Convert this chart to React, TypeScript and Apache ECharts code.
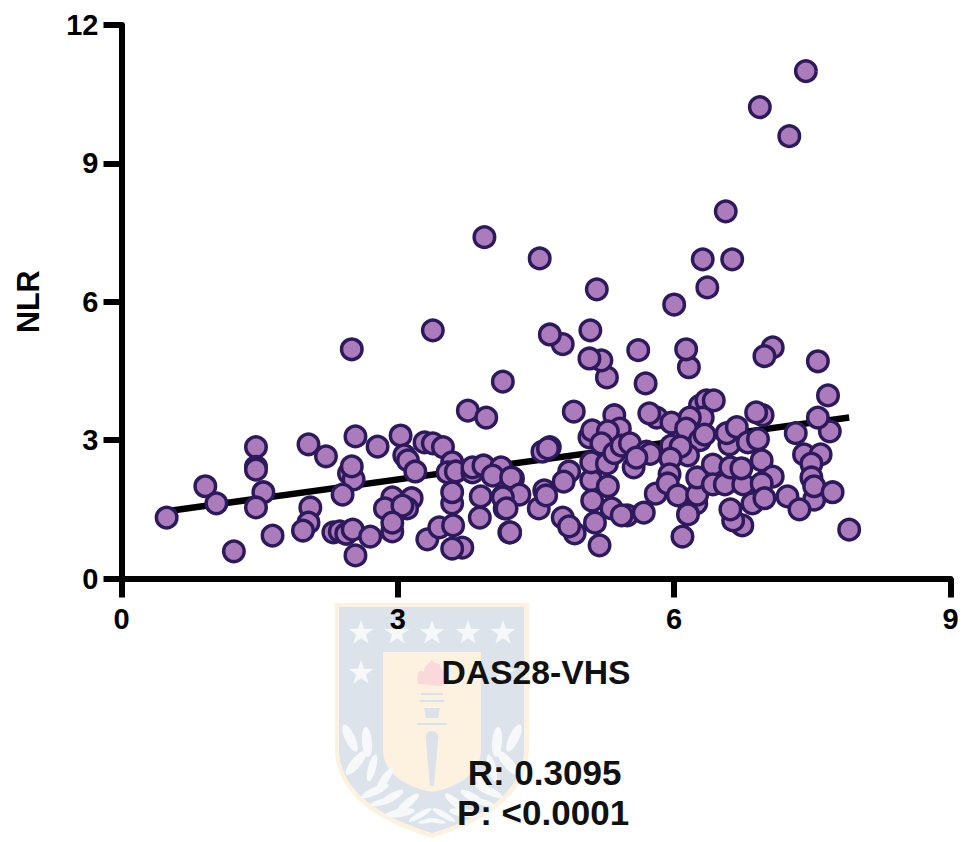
import React, { useEffect, useRef } from "react";
import * as echarts from "echarts";

const xTicks = [0, 3, 6, 9];
const yTicks = [0, 3, 6, 9, 12];
const xTitle = "DAS28-VHS";
const yTitle = "NLR";
const statR = "R: 0.3095";
const statP = "P: <0.0001";

const fitX = [0.49, 7.9];
const fitY = [1.46, 3.49];

const das = [
  0.49, 0.91, 1.03, 1.22, 1.46, 1.46, 1.46, 1.54, 1.46, 1.64, 2.03, 2.22, 2.05, 2.03, 1.97, 2.54, 2.78, 2.47, 2.52, 2.5, 2.4,
  2.3, 2.37, 2.44, 2.51, 2.7, 2.54, 3.03, 3.29, 3.38, 3.49, 3.07, 3.11, 3.19, 2.94, 3.15, 2.86, 3.1, 3.05, 2.94, 2.94, 3.32,
  3.45, 3.6, 3.7, 3.59, 3.59, 3.59, 3.59, 3.54, 3.63, 3.89, 3.9, 3.81, 3.81, 3.93, 4.12, 4.03, 4.25, 4.14, 4.16, 4.21, 3.76,
  3.96, 4.23, 4.32, 4.14, 4.18, 4.22, 4.57, 4.65, 4.63, 4.91, 4.53, 4.59, 4.61, 4.86, 4.8, 4.79, 4.92, 4.86, 5.1, 5.1,
  5.27, 5.28, 5.11, 5.32, 5.14, 5.19, 5.49, 5.43, 5.67, 5.35, 5.41, 5.08, 5.11, 5.28, 5.21, 5.35, 5.43, 5.52, 5.7, 5.74, 5.56,
  5.59, 5.81, 5.73, 5.8, 5.97, 6.28, 6.35, 6.43, 6.31, 6.17, 6.13, 6.28, 6.33, 5.97, 6.15, 6.07, 5.96, 5.95, 5.93, 6.04, 6.24,
  6.25, 6.15, 6.09, 6.25, 6.42, 6.42, 6.55, 6.61, 6.75, 6.73, 6.6, 6.57, 6.68, 6.8, 6.91, 6.95, 6.96, 6.89, 7.07, 6.95, 6.85,
  6.98, 6.74, 6.64, 6.61, 7.32, 7.69, 7.56, 7.41, 7.59, 7.49, 7.49, 7.52, 7.52, 7.72, 7.23, 7.36, 7.9, 7.67, 7.56, 7.07, 6.98,
  6.16, 6.13, 5.61, 5.69, 5.27, 5.21, 5.08, 4.79, 4.65, 4.14, 7.43, 6.93, 7.25, 6.56, 6.31, 6.63, 6.36, 6.0, 5.16, 5.09, 3.94,
  4.54, 3.38, 2.5,
];

const nlr = [
  1.32, 2.0, 1.63, 0.59, 2.85, 2.42, 2.36, 1.87, 1.54, 0.93, 2.91, 2.65, 1.54, 1.21, 1.04, 3.08, 2.86, 2.28, 2.15, 2.43, 1.82,
  1.0, 1.02, 0.97, 1.06, 0.91, 0.5, 3.1, 2.95, 2.93, 2.85, 2.67, 2.56, 2.32, 1.76, 1.74, 1.52, 1.52, 1.58, 1.02, 1.21, 0.85,
  1.11, 1.15, 0.67, 0.65, 1.63, 1.87, 2.52, 2.3, 2.32, 1.32, 1.78, 2.3, 2.41, 2.45, 2.41, 2.23, 2.17, 1.78, 1.52, 1.0, 3.64,
  3.49, 2.19, 1.82, 1.76, 1.52, 1.0, 2.75, 2.85, 2.82, 3.62, 1.52, 1.91, 1.8, 2.32, 2.1, 1.32, 0.98, 1.13, 2.13, 2.52,
  2.49, 2.0, 1.69, 1.52, 1.21, 0.72, 1.37, 1.37, 1.43, 3.54, 3.25, 3.06, 3.21, 3.19, 2.93, 2.72, 2.88, 2.93, 2.75, 2.7, 2.41,
  2.62, 3.49, 3.58, 1.84, 3.38, 3.75, 3.86, 3.86, 3.49, 3.49, 3.25, 3.0, 3.12, 2.88, 2.67, 2.86, 2.6, 2.26, 2.06, 1.8, 1.63,
  1.82, 1.39, 0.91, 2.19, 2.47, 2.04, 2.04, 2.41, 2.04, 2.39, 2.91, 3.15, 3.28, 2.95, 3.02, 2.56, 3.54, 3.6, 2.21, 2.06, 1.63,
  1.74, 1.15, 1.26, 1.5, 3.15, 3.19, 3.49, 2.69, 2.69, 2.49, 2.19, 1.71, 2.0, 1.87, 1.78, 1.5, 1.06, 3.97, 4.71, 5.01, 4.82,
  4.58, 4.97, 4.95, 4.23, 4.36, 4.73, 4.77, 5.08, 5.29, 4.27, 11.0, 10.22, 9.59, 7.96, 6.92, 6.92, 6.31, 5.94, 6.27, 5.38, 7.4,
  6.94, 5.38, 4.97,
];

const FONT = '"Liberation Sans", Arial, sans-serif';

const SHIELD_OUTER = "M335 603 L529 603 L529 748 C529 795 485 822 432 838 C379 822 335 795 335 748 Z";
const SHIELD_BLUE = "M339 607 L524 607 L524 748 C524 792 482 818 432 833 C382 818 339 792 339 748 Z";
const SHIELD_INNER = "M383 652 L481 652 L481 750 C481 772 460 787 432 792 C404 787 383 772 383 750 Z";
const FLAME = "M418 684 C416 672 420 668 424 672 C424 664 430 664 432 659 C433 666 440 660 441 668 C442 672 444 670 445 668 C446 676 444 682 442 686 Z";
const BLADE = "M432 731 C437 731 439 735 438 741 L434 786 L430 786 L426 741 C425 735 427 731 432 731 Z";
const CUP = "M424 708 L440 708 L438 718 L426 718 Z";

function starPoints(cx: number, cy: number, r: number) {
  const pts: number[][] = [];
  for (let i = 0; i < 10; i++) {
    const rad = i % 2 === 0 ? r : r * 0.4;
    const a = -Math.PI / 2 + (i * Math.PI) / 5;
    pts.push([cx + rad * Math.cos(a), cy + rad * Math.sin(a)]);
  }
  return pts;
}

const STAR_SPOTS = [
  [361, 633],
  [397, 633],
  [432, 633],
  [468, 633],
  [503, 633],
  [361, 673],
  [503, 673],
];

// left half of the wreath: cx, cy, rx, ry, rotation in degrees
const LEAVES = [
  [350, 738, 15, 5, 65],
  [367, 742, 15, 5, 85],
  [356, 763, 15, 5, 130],
  [372, 768, 14, 4, 105],
  [385, 779, 13, 4, 125],
  [375, 791, 15, 4, 155],
  [392, 797, 13, 4, 150],
  [408, 803, 14, 4, 140],
  [382, 802, 12, 3, 165],
  [400, 813, 15, 4, 170],
  [420, 815, 13, 3, 150],
  [428, 821, 10, 2, 170],
];

echarts.graphic.registerShape("wmOuter", echarts.graphic.extendPath(SHIELD_OUTER, {}));
echarts.graphic.registerShape("wmBlue", echarts.graphic.extendPath(SHIELD_BLUE, {}));
echarts.graphic.registerShape("wmInner", echarts.graphic.extendPath(SHIELD_INNER, {}));
echarts.graphic.registerShape("wmFlame", echarts.graphic.extendPath(FLAME, {}));
echarts.graphic.registerShape("wmBlade", echarts.graphic.extendPath(BLADE, {}));
echarts.graphic.registerShape("wmCup", echarts.graphic.extendPath(CUP, {}));

function watermark() {
  const els: any[] = [
    { type: "wmOuter", x: 0, y: 0, silent: true, style: { fill: "#fdf2df" } },
    { type: "wmBlue", x: 0, y: 0, silent: true, style: { fill: "#dce3eb" } },
    { type: "wmInner", x: 0, y: 0, silent: true, style: { fill: "#fdf1df" } },
    { type: "wmFlame", x: 0, y: 0, silent: true, style: { fill: "#f9d9da" } },
    { type: "wmBlade", x: 0, y: 0, silent: true, style: { fill: "#dbe2ea" } },
    { type: "wmCup", x: 0, y: 0, silent: true, style: { fill: "#dbe2ea" } },
    { type: "rect", silent: true, shape: { x: 421, y: 693, width: 22, height: 2 }, style: { fill: "#dbe2ea" } },
    { type: "rect", silent: true, shape: { x: 420, y: 700, width: 24, height: 2 }, style: { fill: "#dbe2ea" } },
    { type: "rect", silent: true, shape: { x: 417, y: 723, width: 30, height: 2 }, style: { fill: "#dbe2ea" } },
  ];
  STAR_SPOTS.forEach(([cx, cy]) =>
    els.push({ type: "polygon", silent: true, shape: { points: starPoints(cx, cy, 13) }, style: { fill: "#f6f8fa" } })
  );
  LEAVES.forEach(([cx, cy, rx, ry, deg]) => {
    [1, -1].forEach((side) =>
      els.push({
        type: "ellipse",
        silent: true,
        x: side === 1 ? cx : 864 - cx,
        y: cy,
        rotation: (-side * deg * Math.PI) / 180,
        shape: { cx: 0, cy: 0, rx, ry },
        style: { fill: "#f6f8fa" },
      })
    );
  });
  return els;
}

const points = das.map((d, i) => [d, nlr[i]]);
const fitLine = fitX.map((d, i) => [d, fitY[i]]);

export default function App() {
  const ref = useRef<HTMLDivElement>(null);
  useEffect(() => {
    const chart = echarts.init(ref.current!, undefined, { renderer: "svg" });
    const label = { color: "#000", fontFamily: FONT, fontWeight: "bold" as const, fontSize: 29 };
    chart.setOption({
      animation: false,
      backgroundColor: "#fff",
      grid: { left: 121.5, right: 11.5, top: 25, bottom: 263.5 },
      graphic: [
        ...watermark(),
        {
          type: "text",
          x: 544.5,
          y: 772,
          z: 10,
          style: { text: statR, x: 0, y: 0, align: "center", verticalAlign: "middle", fill: "#111", font: `bold 35px ${FONT}` },
        },
        {
          type: "text",
          x: 543,
          y: 812,
          z: 10,
          style: { text: statP, x: 0, y: 0, align: "center", verticalAlign: "middle", fill: "#111", font: `bold 35px ${FONT}` },
        },
      ],
      xAxis: {
        type: "value",
        min: xTicks[0],
        max: xTicks[xTicks.length - 1],
        interval: 3,
        name: xTitle,
        nameLocation: "middle",
        nameGap: 76,
        nameTextStyle: { color: "#111", fontFamily: FONT, fontWeight: "bold", fontSize: 33.7 },
        splitLine: { show: false },
        axisLine: { show: true, onZero: false, lineStyle: { color: "#000", width: 6 } },
        axisTick: { show: true, length: 19, lineStyle: { color: "#000", width: 6 } },
        axisLabel: { ...label, margin: 26 },
      },
      yAxis: {
        type: "value",
        min: yTicks[0],
        max: yTicks[yTicks.length - 1],
        interval: 3,
        name: yTitle,
        nameLocation: "middle",
        nameGap: 78,
        nameTextStyle: { color: "#000", fontFamily: FONT, fontWeight: "bold", fontSize: 30.5 },
        splitLine: { show: false },
        axisLine: { show: true, onZero: false, lineStyle: { color: "#000", width: 6 } },
        axisTick: { show: true, length: 18, lineStyle: { color: "#000", width: 6 } },
        axisLabel: { ...label, margin: 23 },
      },
      series: [
        {
          type: "line",
          data: fitLine,
          symbol: "none",
          z: 3,
          lineStyle: { color: "#000", width: 6.5, cap: "butt" },
          silent: true,
        },
        {
          type: "scatter",
          data: points,
          z: 4,
          symbol: "circle",
          symbolSize: 20.5,
          itemStyle: { color: "#ab7bbb", borderColor: "#2c1a5c", borderWidth: 3.5, opacity: 1 },
          silent: true,
        },
      ],
    });
    return () => chart.dispose();
  }, []);
  return <div ref={ref} style={{ position: "absolute", left: 0, top: 0, width: 962, height: 842 }} />;
}
